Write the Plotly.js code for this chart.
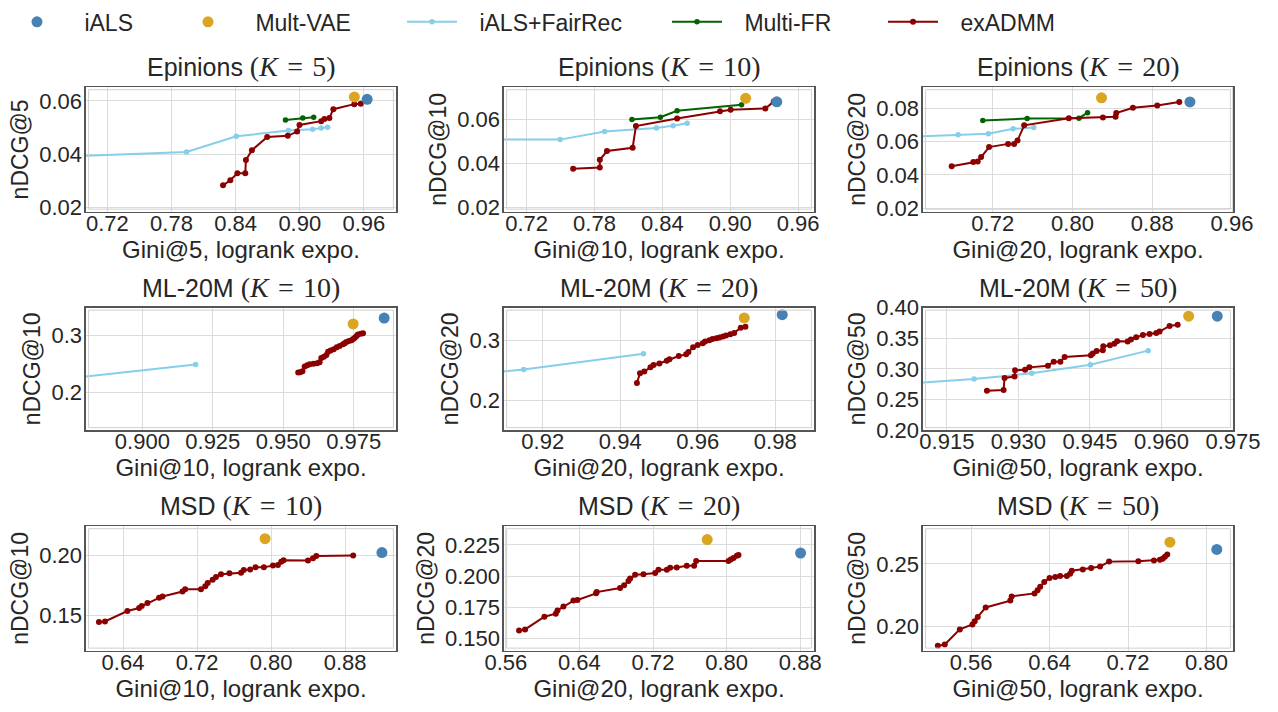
<!DOCTYPE html>
<html>
<head>
<meta charset="utf-8">
<script src="https://cdn.plot.ly/plotly-3.0.1.min.js"></script>
<style>html,body{margin:0;padding:0;background:#fff;}#chart{width:1278px;height:712px;}</style>
</head>
<body>
<div id="chart"></div>
<script>
// ---------------- DATA ----------------
const datasets = ['Epinions','Epinions','Epinions','ML-20M','ML-20M','ML-20M','MSD','MSD','MSD'];
const kvals = [5, 10, 20, 10, 20, 50, 10, 20, 50];

// single-point baselines, one value per panel (row-major)
const ials_x = [0.963, 0.9411, 0.9178, 0.9858, 0.9818, 0.9717, 0.9198, 0.8804, 0.8105];
const ials_y = [0.0606, 0.0680, 0.0837, 0.3306, 0.3422, 0.3860, 0.2025, 0.2184, 0.2616];
const vae_x  = [0.951, 0.9136, 0.8291, 0.9748, 0.9720, 0.9657, 0.7935, 0.7789, 0.7627];
const vae_y  = [0.0615, 0.0696, 0.0862, 0.3202, 0.3368, 0.3860, 0.2141, 0.2292, 0.2674];

// iALS+FairRec
const fair_ep5_x  = [0.68, 0.794, 0.8406, 0.8894, 0.912, 0.920, 0.926];
const fair_ep5_y  = [0.0391, 0.0408, 0.0467, 0.0489, 0.0494, 0.0498, 0.0501];
const fair_ep10_x = [0.68, 0.7496, 0.7889, 0.8347, 0.8495, 0.8619];
const fair_ep10_y = [0.0508, 0.0508, 0.0545, 0.0561, 0.0571, 0.0582];
const fair_ep20_x = [0.63, 0.6852, 0.7156, 0.7404, 0.7611];
const fair_ep20_y = [0.0628, 0.0641, 0.0647, 0.0676, 0.0684];
const fair_ml10_x = [0.87, 0.9189];
const fair_ml10_y = [0.2223, 0.2486];
const fair_ml20_x = [0.905, 0.9151, 0.9460];
const fair_ml20_y = [0.2450, 0.2508, 0.2773];
const fair_ml50_x = [0.905, 0.9207, 0.9328, 0.9451, 0.9572];
const fair_ml50_y = [0.2752, 0.2837, 0.2928, 0.3068, 0.3298];

// Multi-FR
const mfr_ep5_x  = [0.8866, 0.9028, 0.913];
const mfr_ep5_y  = [0.0528, 0.0536, 0.0539];
const mfr_ep10_x = [0.8131, 0.8382, 0.853, 0.910];
const mfr_ep10_y = [0.0599, 0.0610, 0.0639, 0.0667];
const mfr_ep20_x = [0.710, 0.7545, 0.8064, 0.8151];
const mfr_ep20_y = [0.0726, 0.0738, 0.0740, 0.0773];

// exADMM
const ex_ep5_x = [0.8282, 0.835, 0.8416, 0.849, 0.8496, 0.8552, 0.8695, 0.8888, 0.8975, 0.8997, 0.920, 0.923, 0.9277, 0.9314, 0.951, 0.957];
const ex_ep5_y = [0.0283, 0.0302, 0.0328, 0.0328, 0.0378, 0.0415, 0.0465, 0.0469, 0.0485, 0.0510, 0.0524, 0.0532, 0.0536, 0.0569, 0.0588, 0.0589];
const ex_ep10_x = [0.7611, 0.7847, 0.7847, 0.7910, 0.8137, 0.8166, 0.853, 0.8909, 0.9003, 0.931, 0.9384];
const ex_ep10_y = [0.0375, 0.0381, 0.0416, 0.0456, 0.0471, 0.0570, 0.0604, 0.0637, 0.0644, 0.0650, 0.0681];
const ex_ep20_x = [0.6788, 0.7005, 0.7049, 0.7083, 0.7163, 0.7354, 0.7414, 0.7448, 0.7515, 0.7963, 0.8305, 0.8432, 0.8439, 0.8606, 0.885, 0.9071];
const ex_ep20_y = [0.0452, 0.0478, 0.0480, 0.0507, 0.0567, 0.0586, 0.0586, 0.0606, 0.0697, 0.0740, 0.0744, 0.0749, 0.0771, 0.0802, 0.0816, 0.0837];
const ex_ml10_x = [0.9553, 0.9560, 0.9568, 0.9576, 0.9585, 0.9594, 0.9607, 0.9620, 0.9629, 0.9635, 0.9644, 0.9653, 0.9659, 0.9668, 0.9679, 0.9690, 0.9700, 0.9712, 0.9718, 0.9724, 0.9733, 0.9742, 0.9748, 0.9754, 0.9760, 0.9765, 0.9775, 0.9783];
const ex_ml10_y = [0.2347, 0.2352, 0.2370, 0.2451, 0.2475, 0.2491, 0.2500, 0.2509, 0.2526, 0.2601, 0.2625, 0.2653, 0.2711, 0.2733, 0.2757, 0.2790, 0.2815, 0.2844, 0.2862, 0.2884, 0.2900, 0.2913, 0.2935, 0.2960, 0.2990, 0.3017, 0.3030, 0.3040];
const ex_ml20_x = [0.9443, 0.9451, 0.9462, 0.9478, 0.9486, 0.9501, 0.9520, 0.9527, 0.9551, 0.9570, 0.9576, 0.9588, 0.9600, 0.9613, 0.9619, 0.9630, 0.9638, 0.9648, 0.9656, 0.9665, 0.9673, 0.9684, 0.9694, 0.9711, 0.9723];
const ex_ml20_y = [0.2286, 0.2449, 0.2476, 0.2546, 0.2584, 0.2611, 0.2654, 0.2681, 0.2735, 0.2762, 0.2800, 0.2881, 0.2919, 0.2946, 0.2978, 0.2995, 0.3016, 0.3030, 0.3043, 0.3060, 0.3076, 0.3095, 0.3119, 0.3205, 0.3222];
const ex_ml50_x = [0.9234, 0.9269, 0.9271, 0.9292, 0.9293, 0.9314, 0.9323, 0.9362, 0.9374, 0.9388, 0.9397, 0.9452, 0.9456, 0.9464, 0.9477, 0.9478, 0.9492, 0.9501, 0.9507, 0.9529, 0.9536, 0.9547, 0.9561, 0.9575, 0.9589, 0.9596, 0.9617, 0.9634];
const ex_ml50_y = [0.2644, 0.2655, 0.2853, 0.2875, 0.2976, 0.2987, 0.3025, 0.3051, 0.3116, 0.3116, 0.3196, 0.3223, 0.3250, 0.3293, 0.3303, 0.3368, 0.3384, 0.3411, 0.3453, 0.3448, 0.3480, 0.3518, 0.3555, 0.3571, 0.3587, 0.3609, 0.3700, 0.3721];
const ex_msd10_x = [0.614, 0.6205, 0.6447, 0.6574, 0.6602, 0.6664, 0.679, 0.6827, 0.7043, 0.7072, 0.7242, 0.7289, 0.7315, 0.7369, 0.7405, 0.7459, 0.755, 0.7676, 0.7705, 0.7774, 0.7832, 0.7922, 0.802, 0.8074, 0.811, 0.8135, 0.8399, 0.8453, 0.8489, 0.8887];
const ex_msd10_y = [0.1445, 0.1448, 0.1536, 0.1561, 0.1577, 0.1602, 0.1646, 0.1657, 0.1699, 0.1718, 0.1718, 0.1743, 0.1771, 0.1798, 0.1820, 0.1843, 0.1851, 0.1856, 0.1878, 0.1884, 0.1901, 0.1901, 0.1917, 0.1920, 0.1948, 0.1961, 0.1959, 0.1978, 0.1997, 0.2000];
const ex_msd20_x = [0.5744, 0.5809, 0.6019, 0.6143, 0.6161, 0.6226, 0.6335, 0.6378, 0.6581, 0.6588, 0.6842, 0.6886, 0.6933, 0.6951, 0.7005, 0.7096, 0.7223, 0.7259, 0.735, 0.7386, 0.7458, 0.7567, 0.7647, 0.7669, 0.802, 0.8046, 0.8075, 0.8111, 0.8129];
const ex_msd20_y = [0.1565, 0.1573, 0.1675, 0.1699, 0.1725, 0.1757, 0.1804, 0.1809, 0.1862, 0.1872, 0.1904, 0.1927, 0.1961, 0.1980, 0.2011, 0.2014, 0.2024, 0.2051, 0.2051, 0.2066, 0.2069, 0.2082, 0.2082, 0.2121, 0.2121, 0.2132, 0.2145, 0.2163, 0.2169];
const ex_msd50_x = [0.5261, 0.5332, 0.5485, 0.5614, 0.5637, 0.5668, 0.5749, 0.600, 0.6014, 0.6247, 0.6278, 0.6305, 0.6346, 0.640, 0.6458, 0.6508, 0.6576, 0.661, 0.6627, 0.6739, 0.6824, 0.6915, 0.7007, 0.7305, 0.7464, 0.7525, 0.7553, 0.7576, 0.760];
const ex_msd50_y = [0.1842, 0.1853, 0.1974, 0.2013, 0.2039, 0.2074, 0.2150, 0.2205, 0.2239, 0.2263, 0.2289, 0.2316, 0.2355, 0.2387, 0.2395, 0.2403, 0.2403, 0.2421, 0.2445, 0.2455, 0.2466, 0.2479, 0.2518, 0.2521, 0.2526, 0.2532, 0.2542, 0.2558, 0.2576];

// tick labels per panel
const xticks = [
  ['0.72','0.78','0.84','0.90','0.96'],
  ['0.72','0.78','0.84','0.90','0.96'],
  ['0.72','0.80','0.88','0.96'],
  ['0.900','0.925','0.950','0.975'],
  ['0.92','0.94','0.96','0.98'],
  ['0.915','0.930','0.945','0.960','0.975'],
  ['0.64','0.72','0.80','0.88'],
  ['0.56','0.64','0.72','0.80','0.88'],
  ['0.56','0.64','0.72','0.80']
];
const yticks = [
  ['0.02','0.04','0.06'],
  ['0.02','0.04','0.06'],
  ['0.02','0.04','0.06','0.08'],
  ['0.2','0.3'],
  ['0.2','0.3'],
  ['0.20','0.25','0.30','0.35','0.40'],
  ['0.15','0.20'],
  ['0.150','0.175','0.200','0.225'],
  ['0.20','0.25']
];
const xranges = [[0.70,0.99],[0.70,0.974],[0.65,0.961],[0.88,0.99],[0.91,0.99],[0.91,0.975],[0.60,0.935],[0.558,0.895],[0.511,0.827]];
const yranges = [[0.0184,0.0652],[0.018,0.0747],[0.018,0.0926],[0.133,0.349],[0.150,0.354],[0.20,0.40],[0.1204,0.2246],[0.1403,0.240],[0.1803,0.2803]];

// ---------------- BUILD ----------------
const fairX = [fair_ep5_x, fair_ep10_x, fair_ep20_x, fair_ml10_x, fair_ml20_x, fair_ml50_x, null, null, null];
const fairY = [fair_ep5_y, fair_ep10_y, fair_ep20_y, fair_ml10_y, fair_ml20_y, fair_ml50_y, null, null, null];
const mfrX = [mfr_ep5_x, mfr_ep10_x, mfr_ep20_x, null, null, null, null, null, null];
const mfrY = [mfr_ep5_y, mfr_ep10_y, mfr_ep20_y, null, null, null, null, null, null];
const exX = [ex_ep5_x, ex_ep10_x, ex_ep20_x, ex_ml10_x, ex_ml20_x, ex_ml50_x, ex_msd10_x, ex_msd20_x, ex_msd50_x];
const exY = [ex_ep5_y, ex_ep10_y, ex_ep20_y, ex_ml10_y, ex_ml20_y, ex_ml50_y, ex_msd10_y, ex_msd20_y, ex_msd50_y];

const C_IALS = '#4682b4', C_VAE = '#daa520', C_FAIR = '#87ceeb', C_MFR = '#006400', C_EX = '#8b0000';
const W = 1278, H = 712;
const cols = [[86,396],[504,814],[923,1233]];
const rows = [[80,206],[303,427],[524,650]];
const FONT = 'Liberation Sans, Arial, sans-serif';
const TXT = '#262626';
const PAD = '\u00a0\u00a0\u2009';

const traces = [];
const layout = {
  width: W, height: H,
  margin: {l:0, r:0, t:0, b:0},
  paper_bgcolor: '#fff', plot_bgcolor: '#fff',
  font: {family: FONT, color: TXT, size: 22},
  annotations: [], shapes: []
};

const legendPos = [7, 178, 402, 667, 883];
const legNames = ['legend','legend2','legend3','legend4','legend5'];
legNames.forEach((ln, i) => {
  layout[ln] = {
    orientation: 'h', x: legendPos[i] / W, xanchor: 'left',
    y: 1 - 14 / H, yanchor: 'middle',
    bgcolor: 'rgba(0,0,0,0)', borderwidth: 0,
    font: {family: FONT, size: 23, color: TXT},
    itemwidth: 50, itemclick: false
  };
});

for (let p = 0; p < 9; p++) {
  const r = Math.floor(p / 3), c = p % 3;
  const xa = 'x' + (p === 0 ? '' : p + 1), ya = 'y' + (p === 0 ? '' : p + 1);
  const xk = 'xaxis' + (p === 0 ? '' : p + 1), yk = 'yaxis' + (p === 0 ? '' : p + 1);
  const first = p === 0;
  if (fairX[p]) traces.push({x: fairX[p], y: fairY[p], xaxis: xa, yaxis: ya, mode: 'lines+markers', name: PAD + 'iALS+FairRec',
    line: {color: C_FAIR, width: 2}, marker: {color: C_FAIR, size: 5.5}, legendgroup: 'fair', showlegend: first, legend: 'legend3'});
  if (mfrX[p]) traces.push({x: mfrX[p], y: mfrY[p], xaxis: xa, yaxis: ya, mode: 'lines+markers', name: PAD + 'Multi-FR',
    line: {color: C_MFR, width: 2}, marker: {color: C_MFR, size: 5.5}, legendgroup: 'mfr', showlegend: first, legend: 'legend4'});
  traces.push({x: exX[p], y: exY[p], xaxis: xa, yaxis: ya, mode: 'lines+markers', name: PAD + 'exADMM',
    line: {color: C_EX, width: 2}, marker: {color: C_EX, size: 6}, legendgroup: 'ex', showlegend: first, legend: 'legend5'});
  traces.push({x: [vae_x[p]], y: [vae_y[p]], xaxis: xa, yaxis: ya, mode: 'markers', name: PAD + 'Mult-VAE',
    marker: {color: C_VAE, size: 11}, legendgroup: 'vae', showlegend: first, legend: 'legend2'});
  traces.push({x: [ials_x[p]], y: [ials_y[p]], xaxis: xa, yaxis: ya, mode: 'markers', name: PAD + 'iALS',
    marker: {color: C_IALS, size: 11}, legendgroup: 'ials', showlegend: first, legend: 'legend'});

  const common = {
    showgrid: true, gridcolor: '#dcdcdc', gridwidth: 1, zeroline: false,
    showline: true, linecolor: '#555', linewidth: 1.6, mirror: true,
    ticks: '', ticklen: 0, automargin: false,
    tickfont: {family: FONT, size: 22, color: TXT}
  };
  layout[xk] = Object.assign({}, common, {
    domain: [cols[c][0] / W, cols[c][1] / W], anchor: ya,
    range: xranges[p], tickmode: 'array', tickvals: xticks[p].map(Number), ticktext: xticks[p],
    ticklabelstandoff: -9,
    title: {text: 'Gini@' + kvals[p] + ', logrank expo.', font: {family: FONT, size: 24, color: TXT}, standoff: 6}
  });
  layout[yk] = Object.assign({}, common, {
    domain: [1 - rows[r][1] / H, 1 - rows[r][0] / H], anchor: xa,
    range: yranges[p], tickmode: 'array', tickvals: yticks[p].map(Number), ticktext: yticks[p],
    ticklabelstandoff: -2,
    title: {text: 'nDCG@' + kvals[p], font: {family: FONT, size: 23, color: TXT}, standoff: 4}
  });
  // inner light frame line
  const ix = 2.6 / (cols[c][1] - cols[c][0]), iy = 2.6 / (rows[r][1] - rows[r][0]);
  layout.shapes.push({type: 'rect', xref: xa + ' domain', yref: ya + ' domain', x0: ix, x1: 1 - ix, y0: iy, y1: 1 - iy,
    line: {color: '#cfcfcf', width: 1}, fillcolor: 'rgba(0,0,0,0)', layer: 'above'});
  // subplot title
  layout.annotations.push({
    xref: 'paper', yref: 'paper', x: (cols[c][0] + cols[c][1]) / 2 / W, y: 1 - (rows[r][0] - 3) / H,
    xanchor: 'center', yanchor: 'bottom', showarrow: false,
    text: datasets[p] + ' <span style="font-family:Liberation Serif, serif;font-size:28px">(<i>K</i>\u2004=\u2004' + kvals[p] + ')</span>',
    font: {family: FONT, size: 25, color: TXT}
  });
}

Plotly.newPlot('chart', traces, layout, {displayModeBar: false, staticPlot: true});
</script>
</body>
</html>
